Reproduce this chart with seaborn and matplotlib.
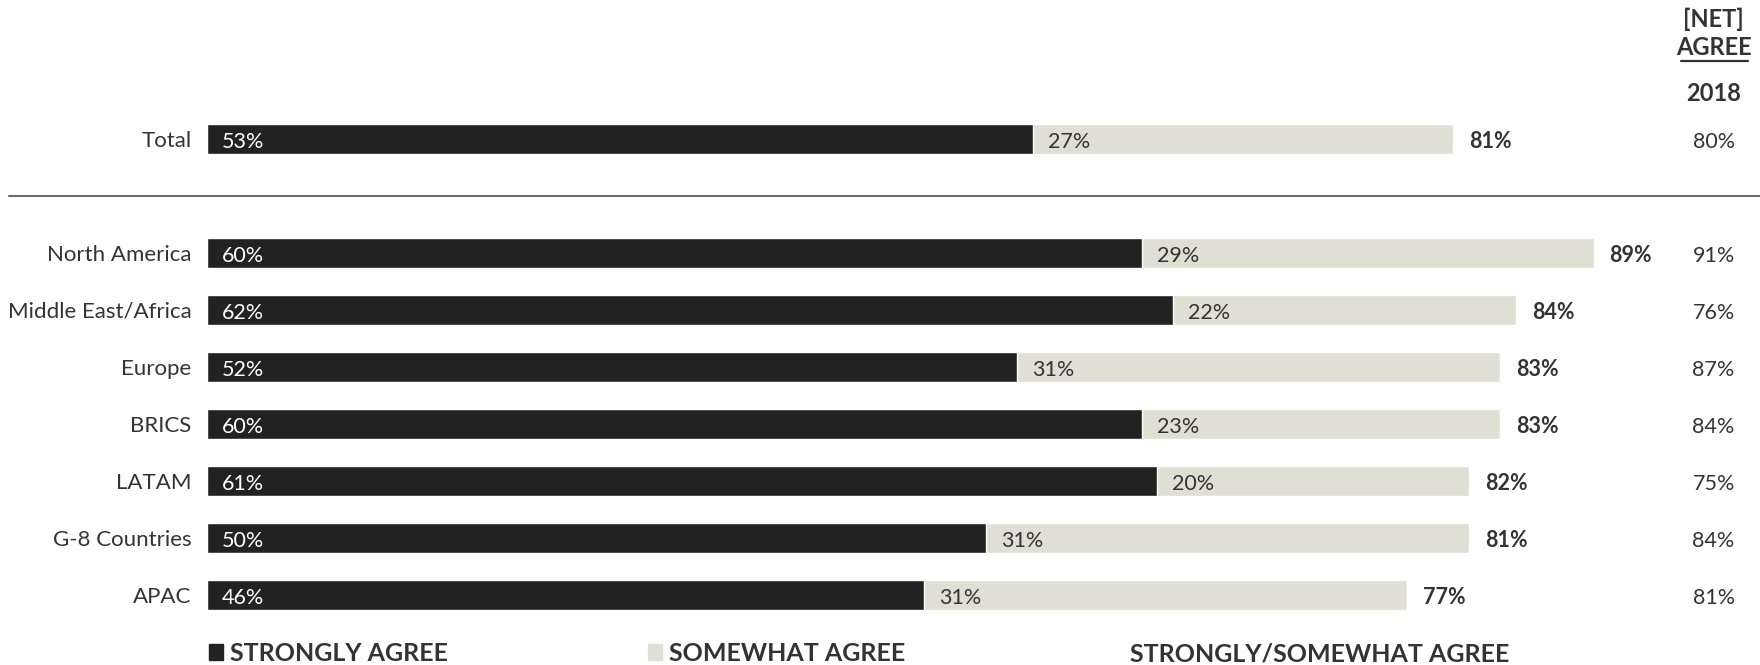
import numpy as np
import pandas as pd
import matplotlib.pyplot as plt
from matplotlib.patches import Rectangle
import seaborn as sns

# Data
regions = ["Total", "North America", "Middle East/Africa", "Europe", "BRICS",
           "LATAM", "G-8 Countries", "APAC"]
strongly = [53, 60, 62, 52, 60, 61, 50, 46]
somewhat = [27, 29, 22, 31, 23, 20, 31, 31]
net_agree = [81, 89, 84, 83, 83, 82, 81, 77]
net_2018 = [80, 91, 76, 87, 84, 75, 84, 81]

DARK = "#222222"
LIGHT = "#dfdfd3"
TEXT = "#333333"

df = pd.DataFrame({"Region": regions, "Strongly": strongly, "Somewhat": somewhat,
                   "Net": net_agree, "Y2018": net_2018})
df["Stack"] = df["Strongly"] + df["Somewhat"]

# blank slot between Total and the regions
order = ["Total", " "] + regions[1:]

sns.set_theme(style="white")
plt.rcParams["font.family"] = ["Lato", "DejaVu Sans"]

fig = plt.figure(figsize=(17.6, 6.65), dpi=100)
px = 15.58  # pixels per percentage point
left = 207 / 1760
ax = fig.add_axes([left, 0, 100 * px / 1760, 1])

sns.barplot(data=df, y="Region", x="Stack", order=order, color=LIGHT,
            width=0.51, orient="h", saturation=1, ax=ax)
sns.barplot(data=df, y="Region", x="Strongly", order=order, color=DARK,
            width=0.51, orient="h", saturation=1, ax=ax)

row_px = 57.0
top = -139 / row_px
ax.set_ylim(top + 665 / row_px, top)
ax.set_xlim(0, 100)
ax.set_xlabel("")
ax.set_ylabel("")
ax.set_xticks([])
ax.tick_params(axis="y", length=0, pad=11, labelsize=16, labelcolor=TEXT)
ax.set_yticklabels([t.get_text() for t in ax.get_yticklabels()])
for s in ax.spines.values():
    s.set_visible(False)

pos = {r: order.index(r) for r in regions}
off = 15 / px
dy = 0.05
for _, r in df.iterrows():
    y = pos[r["Region"]] + dy
    ax.text(off, y, f"{r['Strongly']}%", color="white", fontsize=15.5, va="center", ha="left")
    ax.text(r["Strongly"] + off, y, f"{r['Somewhat']}%", color=TEXT, fontsize=15.5,
            va="center", ha="left")
    ax.text(r["Stack"] + 16 / px, y, f"{r['Net']}%", color=TEXT, fontsize=15.5,
            fontweight="bold", va="center", ha="left")
    ax.text(96.7, y, f"{r['Y2018']}%", color=TEXT, fontsize=15.5, va="center",
            ha="center", clip_on=False)

# separator line between Total and regions
ax.plot([-198 / px, 100], [1, 1], color="#6d6d6d", lw=1.5, clip_on=False)

# header of the right column
ax.text(96.7, -2.1, "[NET]", color=TEXT, fontsize=17, fontweight="bold",
        ha="center", va="center", clip_on=False)
ax.text(96.7, -1.6, "AGREE", color=TEXT, fontsize=17, fontweight="bold",
        ha="center", va="center", clip_on=False)
ax.plot([94.6, 98.9], [-1.36, -1.36], color=TEXT, lw=1.6, clip_on=False)
ax.text(96.7, -0.8, "2018", color=TEXT, fontsize=17, fontweight="bold",
        ha="center", va="center", clip_on=False)

# legend along the bottom
ly = 9.0
sq_w, sq_h = 14 / px, 16 / row_px
for x0, col, lab in [(2 / px, DARK, "STRONGLY AGREE"),
                     (441 / px, LIGHT, "SOMEWHAT AGREE")]:
    ax.add_patch(Rectangle((x0, ly - sq_h / 2), sq_w, sq_h, color=col, clip_on=False))
    ax.text(x0 + 21 / px, ly + 0.03, lab, color=TEXT, fontsize=18, fontweight="bold",
            va="center", ha="left", clip_on=False)
ax.text(923 / px, ly + 0.03, "STRONGLY/SOMEWHAT AGREE", color=TEXT, fontsize=18,
        fontweight="bold", va="center", ha="left", clip_on=False)

fig.savefig("out.png", dpi=100)
